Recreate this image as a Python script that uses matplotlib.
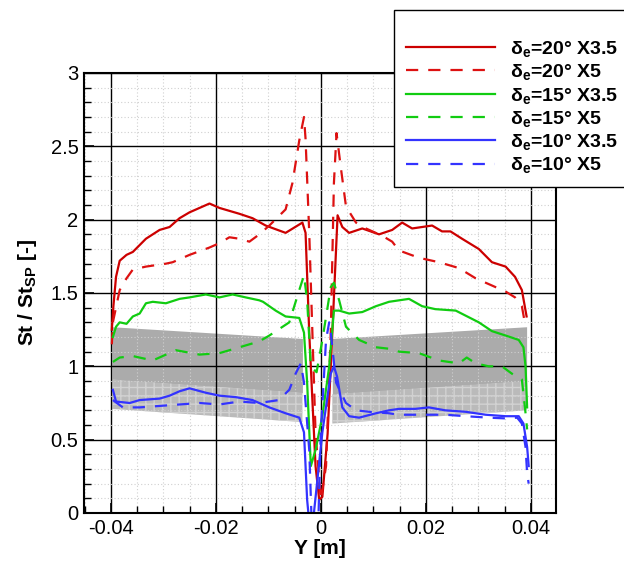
import matplotlib
matplotlib.use("Agg")
import matplotlib.pyplot as plt
from matplotlib.ticker import MultipleLocator, FuncFormatter
import numpy as np

plt.rcParams['font.family'] = ['Liberation Sans', 'DejaVu Sans']
plt.rcParams['mathtext.fontset'] = 'custom'
plt.rcParams['mathtext.rm'] = 'Liberation Sans'
plt.rcParams['mathtext.bf'] = 'Liberation Sans:bold'
plt.rcParams['mathtext.it'] = 'Liberation Sans:italic'

# ---------------- data ----------------
labels = [r"δ$_{\bf e}$=20° X3.5", r"δ$_{\bf e}$=20° X5",
          r"δ$_{\bf e}$=15° X3.5", r"δ$_{\bf e}$=15° X5",
          r"δ$_{\bf e}$=10° X3.5", r"δ$_{\bf e}$=10° X5"]

red_x35_x = [-0.0398, -0.0395, -0.039, -0.0383, -0.037, -0.0358, -0.0333, -0.0307, -0.0288, -0.0269,
             -0.025, -0.0212, -0.0193, -0.0155, -0.013, -0.0105, -0.0067, -0.0035, -0.0029, -0.0022,
             -0.0016, -0.0010, -0.0003, 0.0003, 0.0013, 0.0022, 0.0032, 0.0041, 0.0054, 0.0079,
             0.0111, 0.0136, 0.0155, 0.0174, 0.0212, 0.0231, 0.0247, 0.0269, 0.0301, 0.0326,
             0.0352, 0.037, 0.0383, 0.0392]
red_x35_y = [1.25, 1.41, 1.61, 1.72, 1.76, 1.78, 1.87, 1.93, 1.95, 2.01,
             2.05, 2.11, 2.08, 2.04, 2.01, 1.96, 1.91, 1.98, 1.91, 1.23,
             0.77, 0.32, 0.09, 0.11, 0.54, 1.23, 2.03, 1.95, 1.91, 1.94,
             1.90, 1.93, 1.98, 1.94, 1.96, 1.92, 1.92, 1.87, 1.80, 1.71,
             1.68, 1.61, 1.52, 1.34]

red_x5_x = [-0.0398, -0.0396, -0.0383, -0.037, -0.0358, -0.0333, -0.0295, -0.0282, -0.025, -0.0212,
            -0.0193, -0.0174, -0.0155, -0.0136, -0.0117, -0.0098, -0.0067, -0.0054, -0.0041, -0.0032,
            -0.0029, -0.0022, -0.0016, -0.001, 0.0, 0.001, 0.0019, 0.0025, 0.003, 0.0038,
            0.0048, 0.0067, 0.0086, 0.0117, 0.0136, 0.0149, 0.0187, 0.0225, 0.0263, 0.0295,
            0.0333, 0.0352, 0.037, 0.0383, 0.039]
red_x5_y = [1.15, 1.30, 1.52, 1.60, 1.66, 1.68, 1.70, 1.71, 1.76, 1.81,
            1.84, 1.88, 1.87, 1.85, 1.90, 1.96, 2.07, 2.25, 2.54, 2.70,
            2.55, 1.91, 1.23, 0.55, 0.09, 0.32, 1.23, 2.25, 2.59, 2.36,
            2.09, 1.98, 1.94, 1.89, 1.85, 1.79, 1.74, 1.71, 1.67, 1.60,
            1.54, 1.51, 1.47, 1.41, 1.27]

grn_x35_x = [-0.0396, -0.039, -0.0383, -0.037, -0.0358, -0.0345, -0.0333, -0.032, -0.0295, -0.0269,
             -0.025, -0.0219, -0.0193, -0.0168, -0.0143, -0.0117, -0.011, -0.0086, -0.0067, -0.0041,
             -0.0032, -0.0026, -0.0019, -0.001, 0.0003, 0.0016, 0.0025, 0.0035, 0.0054, 0.0079,
             0.0105, 0.013, 0.0168, 0.0193, 0.0218, 0.0257, 0.0301, 0.0326, 0.0352, 0.0377,
             0.0386, 0.039, 0.0393]
grn_x35_y = [1.20, 1.27, 1.30, 1.29, 1.34, 1.36, 1.43, 1.44, 1.43, 1.46,
             1.47, 1.49, 1.47, 1.49, 1.47, 1.45, 1.44, 1.38, 1.34, 1.33,
             1.23, 0.89, 0.32, 0.43, 0.66, 1.00, 1.38, 1.38, 1.36, 1.37,
             1.41, 1.44, 1.46, 1.41, 1.39, 1.38, 1.30, 1.24, 1.21, 1.18,
             1.13, 1.00, 0.72]

grn_x5_x = [-0.0396, -0.0383, -0.0358, -0.032, -0.0276, -0.0231, -0.0193, -0.0155, -0.0117, -0.0098,
            -0.006, -0.0041, -0.0032, -0.0026, -0.0019, -0.0008, 0.0003, 0.0019, 0.0025, 0.0035,
            0.0048, 0.0073, 0.0105, 0.013, 0.0149, 0.0187, 0.0225, 0.0263, 0.0278, 0.0295,
            0.032, 0.0345, 0.0364, 0.0383, 0.039, 0.0393]
grn_x5_y = [1.03, 1.06, 1.07, 1.04, 1.11, 1.08, 1.09, 1.13, 1.17, 1.21,
            1.30, 1.52, 1.62, 1.45, 1.00, 0.96, 1.18, 1.54, 1.57, 1.45,
            1.27, 1.18, 1.13, 1.12, 1.10, 1.09, 1.04, 1.02, 1.06, 1.02,
            1.00, 1.00, 0.95, 0.91, 0.68, 0.57]

blu_x35_x = [-0.0396, -0.039, -0.0364, -0.0345, -0.0307, -0.0288, -0.0269, -0.025, -0.0219, -0.0193,
             -0.0162, -0.013, -0.0098, -0.0067, -0.0041, -0.0032, -0.0026, -0.0021, -0.0016, 0.0003,
             0.0019, 0.0025, 0.0031, 0.0041, 0.0054, 0.0073, 0.0105, 0.013, 0.0149, 0.018,
             0.0206, 0.0237, 0.0276, 0.0314, 0.0352, 0.0377, 0.0386, 0.0393, 0.0396]
blu_x35_y = [0.84, 0.76, 0.75, 0.77, 0.78, 0.80, 0.83, 0.85, 0.82, 0.80,
             0.79, 0.77, 0.72, 0.68, 0.65, 0.55, 0.09, -0.10, -0.10, 0.55,
             0.95, 1.00, 0.93, 0.72, 0.66, 0.65, 0.68, 0.70, 0.71, 0.71,
             0.72, 0.70, 0.69, 0.67, 0.66, 0.66, 0.61, 0.45, 0.32]

blu_x5_x = [-0.0396, -0.0377, -0.0345, -0.0307, -0.0269, -0.0231, -0.0193, -0.0155, -0.0117, -0.008,
            -0.006, -0.0048, -0.0038, -0.0032, -0.0022, -0.0017, -0.0005, 0.0, 0.001, 0.0016,
            0.0019, 0.0029, 0.0048, 0.0067, 0.0092, 0.013, 0.0149, 0.0187, 0.0237, 0.0276,
            0.032, 0.0352, 0.0374, 0.0383, 0.039, 0.0393, 0.0396]
blu_x5_y = [0.77, 0.72, 0.72, 0.73, 0.74, 0.75, 0.74, 0.76, 0.75, 0.77,
            0.84, 0.95, 1.02, 0.89, 0.43, -0.10, -0.10, 0.55, 1.18, 1.30,
            1.23, 0.89, 0.75, 0.70, 0.69, 0.68, 0.67, 0.67, 0.67, 0.66,
            0.65, 0.645, 0.65, 0.61, 0.45, 0.27, 0.20]

# uncertainty band (left and right of the centreline)
band_left_x = [-0.0398, -0.0035]
band_left_top = [1.27, 1.19]
band_left_bot = [0.71, 0.62]
band_right_x = [0.0022, 0.0392]
band_right_top = [1.19, 1.27]
band_right_bot = [0.61, 0.70]

xticks = [-0.04, -0.02, 0.0, 0.02, 0.04]
yticks = [0, 0.5, 1, 1.5, 2, 2.5, 3]

# ---------------- figure ----------------
fig = plt.figure(figsize=(6.24, 5.62), dpi=100)
ax = fig.add_axes([84/624, 1 - 513/562, (556 - 84)/624, (513 - 73)/562])

for bx, bt, bb in [(band_left_x, band_left_top, band_left_bot),
                   (band_right_x, band_right_top, band_right_bot)]:
    bx = np.array(bx); bt = np.array(bt); bb = np.array(bb)
    mid = bb + 0.2
    ax.fill_between(bx, mid, bt, color='#ababab', lw=0, zorder=1)
    ax.fill_between(bx, bb, mid, facecolor='#bababa', edgecolor='#d2d2d2',
                    hatch='++', lw=0, zorder=1)

lw = 1.6
dash = (5.5, 4.5)
ax.plot(red_x35_x, red_x35_y, color='#cc0000', lw=lw, label=labels[0], zorder=3)
ax.plot(red_x5_x, red_x5_y, color='#dd1111', lw=lw, dashes=dash, label=labels[1], zorder=3)
ax.plot(grn_x35_x, grn_x35_y, color='#11cc11', lw=lw, label=labels[2], zorder=3)
ax.plot(grn_x5_x, grn_x5_y, color='#11cc11', lw=lw, dashes=dash, label=labels[3], zorder=3)
ax.plot(blu_x35_x, blu_x35_y, color='#3333ff', lw=lw, label=labels[4], zorder=3)
ax.plot(blu_x5_x, blu_x5_y, color='#3333ff', lw=lw, dashes=dash, label=labels[5], zorder=3)

ax.set_xlim(-0.0451, 0.0448)
ax.set_ylim(0, 3)
ax.set_xticks(xticks)
ax.set_yticks(yticks)
ax.xaxis.set_minor_locator(MultipleLocator(0.005))
ax.yaxis.set_minor_locator(MultipleLocator(0.1))
ax.xaxis.set_major_formatter(FuncFormatter(lambda v, p: '0' if abs(v) < 1e-9 else '%g' % v))
ax.yaxis.set_major_formatter(FuncFormatter(lambda v, p: '%g' % v))
ax.set_axisbelow(False)
ax.grid(which='major', color='black', lw=1.0, ls='-')
ax.grid(which='minor', color='#d0d0d0', lw=0.8, ls=(0, (1, 2)))
ax.tick_params(which='both', direction='in', labelsize=14.5)
ax.tick_params(which='major', length=7, width=1.2, pad=4)
ax.tick_params(which='minor', length=5, width=1.0)
for s in ax.spines.values():
    s.set_linewidth(1.5)
    s.set_zorder(4)

ax.set_xlabel('Y [m]', fontsize=15, fontweight='bold', labelpad=1)
ax.set_ylabel(r'St / St$_{\bf SP}$ [-]', fontsize=15, fontweight='bold', labelpad=8)

leg = fig.legend(loc='upper left', bbox_to_anchor=(394/624, 1 - 10/562),
                 bbox_transform=fig.transFigure, borderaxespad=0,
                 prop={'family': 'Liberation Sans', 'weight': 'bold', 'size': 14},
                 handlelength=4.6, handletextpad=0.75, labelspacing=0.17,
                 borderpad=0.6, fancybox=False, framealpha=1,
                 edgecolor='black', title=' ', title_fontsize=10)
leg.get_frame().set_linewidth(1.0)
leg.set_zorder(10)

fig.savefig('out.png', dpi=100)
